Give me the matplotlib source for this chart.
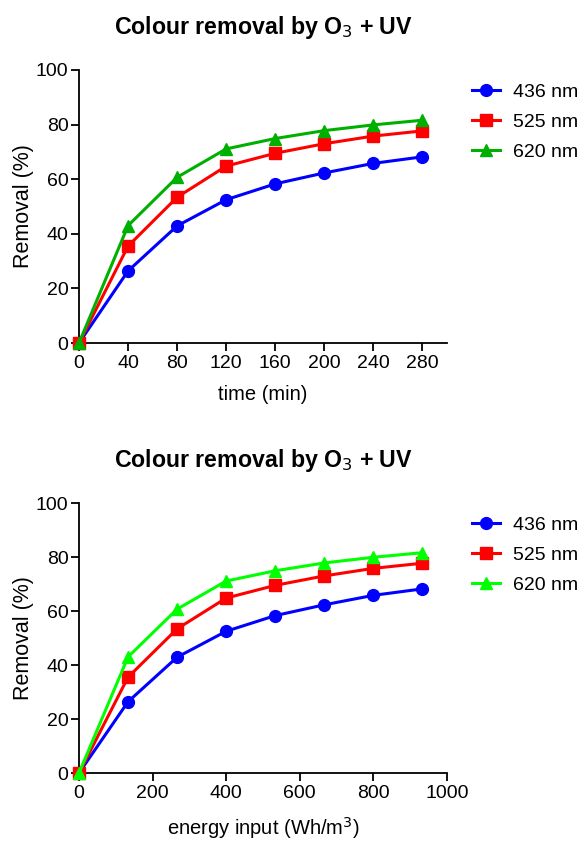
import matplotlib
matplotlib.use("Agg")
import matplotlib.pyplot as plt

plt.rcParams['font.family'] = ['Liberation Sans', 'DejaVu Sans']

time_min = [0, 40, 80, 120, 160, 200, 240, 280]
energy = [0, 133.3, 266.7, 400, 533.3, 666.7, 800, 933.3]
r436 = [0, 26.4, 42.9, 52.5, 58.3, 62.3, 65.8, 68.2]
r525 = [0, 35.5, 53.4, 64.8, 69.5, 73.0, 75.8, 77.7]
r620 = [0, 43.0, 60.7, 71.1, 74.9, 77.8, 79.9, 81.6]
labels = ["436 nm", "525 nm", "620 nm"]
title = "Colour removal by O$_3$ + UV"

fig = plt.figure(figsize=(5.85, 8.43), dpi=100)

def make(ax, x, green, xlim, xticks, xlabel):
    ax.plot(x, r436, '-o', color='#0000ff', lw=2.2, ms=8.5, label=labels[0], clip_on=False, zorder=3)
    ax.plot(x, r525, '-s', color='#ff0000', lw=2.2, ms=8, label=labels[1], clip_on=False, zorder=4)
    ax.plot(x, r620, '-^', color=green, lw=2.2, ms=9, label=labels[2], clip_on=False, zorder=5)
    ax.set_xlim(*xlim)
    ax.set_ylim(0, 100)
    ax.set_xticks(xticks)
    ax.set_yticks([0, 20, 40, 60, 80, 100])
    for s in ['top', 'right']:
        ax.spines[s].set_visible(False)
    for s in ['left', 'bottom']:
        ax.spines[s].set_linewidth(1.3)
    ax.tick_params(direction='out', length=6, width=1.3, labelsize=14)
    ax.tick_params(axis='x', pad=3)
    ax.tick_params(axis='y', pad=1.5)
    ax.set_ylabel("Removal (%)", fontsize=15.5, labelpad=1.2)
    ax.set_xlabel(xlabel, fontsize=14.5, labelpad=9)
    ax.set_title(title, fontsize=16.7, fontweight='bold', pad=26)
    ax.legend(loc='upper left', bbox_to_anchor=(1.02, 1.016), frameon=False,
              fontsize=14, handlelength=1.45, handletextpad=0.67, labelspacing=0.64)

ax1 = fig.add_axes([79/585, 1-343/843, 368/585, 273/843])
make(ax1, time_min, '#00b000', (0, 300), [0, 40, 80, 120, 160, 200, 240, 280], "time (min)")

ax2 = fig.add_axes([79/585, 1-773/843, 368/585, 270/843])
make(ax2, energy, '#00ff00', (0, 1000), [0, 200, 400, 600, 800, 1000], "energy input (Wh/m$^3$)")

fig.savefig("out.png", dpi=100)
